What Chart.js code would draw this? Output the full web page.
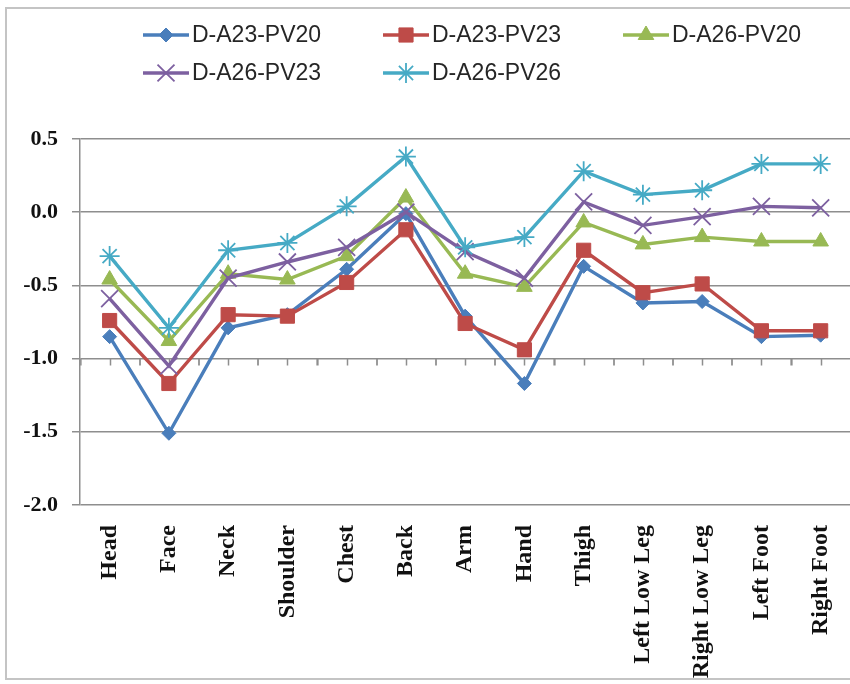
<!DOCTYPE html>
<html>
<head>
<meta charset="utf-8">
<script src="https://cdn.jsdelivr.net/npm/chart.js@4.4.1/dist/chart.umd.min.js"></script>
<style>
  html, body { margin: 0; padding: 0; background: #fff; overflow: hidden; }
  #wrap { position: relative; width: 850px; height: 684px; overflow: hidden; }
  canvas { display: block; }
</style>
</head>
<body>
<div id="wrap"><canvas id="chart" width="870" height="684"></canvas></div>
<script>
// body regions
const categories = ['Head', 'Face', 'Neck', 'Shoulder', 'Chest', 'Back', 'Arm', 'Hand', 'Thigh',
  'Left Low Leg', 'Right Low Leg', 'Left Foot', 'Right Foot'];

const seriesNames = ['D-A23-PV20', 'D-A23-PV23', 'D-A26-PV20', 'D-A26-PV23', 'D-A26-PV26'];

const a23pv20 = [-0.85, -1.51, -0.79, -0.70, -0.39, -0.01, -0.71, -1.17, -0.37, -0.62, -0.61, -0.85, -0.84];
const a23pv23 = [-0.74, -1.17, -0.70, -0.71, -0.48, -0.12, -0.76, -0.94, -0.26, -0.55, -0.49, -0.81, -0.81];
const a26pv20 = [-0.46, -0.88, -0.42, -0.46, -0.30, 0.10, -0.42, -0.51, -0.07, -0.22, -0.17, -0.20, -0.20];
const a26pv23 = [-0.59, -1.05, -0.45, -0.34, -0.24, 0.00, -0.27, -0.45, 0.07, -0.09, -0.03, 0.04, 0.03];
const a26pv26 = [-0.30, -0.79, -0.26, -0.21, 0.04, 0.38, -0.24, -0.17, 0.28, 0.12, 0.15, 0.33, 0.33];

const yTicks = [-2.0, -1.5, -1.0, -0.5, 0.0, 0.5];

const GRID = '#8e8e8e';

function line(label, data, color, pointStyle, radius, order) {
  const thin = pointStyle.startsWith('cross') || pointStyle === 'star';
  return {
    label, data, order,
    borderColor: color,
    backgroundColor: color,
    borderWidth: 3.4,
    pointStyle,
    pointRadius: radius,
    pointHoverRadius: radius,
    pointBorderWidth: thin ? 1.8 : 1,
    tension: 0
  };
}

// outer frame
const frame = {
  id: 'frame',
  beforeDraw(chart) {
    const ctx = chart.ctx;
    ctx.save();
    ctx.fillStyle = '#fff';
    ctx.fillRect(0, 0, chart.width, chart.height);
    ctx.strokeStyle = '#c4c4c4';
    ctx.lineWidth = 2;
    ctx.strokeRect(6, 8, 900, 671);
    ctx.restore();
  }
};

// category axis tick marks sit on the -1.0 line
const crossTicks = {
  id: 'crossTicks',
  beforeDatasetsDraw(chart) {
    const x = chart.scales.x, y = chart.scales.y;
    const ctx = chart.ctx;
    const y0 = y.getPixelForValue(-1);
    const half = (x.getPixelForValue(1) - x.getPixelForValue(0)) / 2;
    ctx.save();
    ctx.strokeStyle = GRID;
    ctx.lineWidth = 1.5;
    ctx.beginPath();
    categories.forEach((c, i) => {
      const px = Math.round(x.getPixelForValue(i)) + 0.5;
      [px - half, px, px + half].forEach(t => {
        ctx.moveTo(t, y0);
        ctx.lineTo(t, y0 + 7);
      });
    });
    ctx.stroke();
    ctx.restore();
  }
};

// two-row legend in fixed columns
const gridLegend = {
  id: 'gridLegend',
  afterDraw(chart) {
    const ctx = chart.ctx;
    ctx.save();
    chart.data.datasets.forEach((ds, i) => {
      const x0 = 143 + (i % 3) * 240;
      const yy = 35 + Math.floor(i / 3) * 38;
      ctx.strokeStyle = ds.borderColor;
      ctx.fillStyle = ds.backgroundColor;
      ctx.lineWidth = 3.4;
      ctx.beginPath();
      ctx.moveTo(x0, yy);
      ctx.lineTo(x0 + 46, yy);
      ctx.stroke();
      ctx.lineWidth = ds.pointBorderWidth;
      Chart.helpers.drawPoint(ctx, {
        pointStyle: ds.pointStyle, radius: ds.pointRadius, borderWidth: ds.pointBorderWidth, rotation: 0
      }, x0 + 23, yy);
      ctx.fillStyle = '#262626';
      ctx.font = '23px "Liberation Sans", Arial, sans-serif';
      ctx.textBaseline = 'middle';
      ctx.textAlign = 'left';
      ctx.fillText(ds.label, x0 + 49, yy + 1);
    });
    ctx.restore();
  }
};

new Chart(document.getElementById('chart'), {
  type: 'line',
  data: {
    labels: categories,
    datasets: [
      line(seriesNames[0], a23pv20, '#4A7EBB', 'rectRot', 7, 5),
      line(seriesNames[1], a23pv23, '#BE4B48', 'rect', 10, 4),
      line(seriesNames[2], a26pv20, '#98B954', 'triangle', 9, 3),
      line(seriesNames[3], a26pv23, '#7D60A0', 'crossRot', 12, 2),
      line(seriesNames[4], a26pv26, '#46AAC5', 'star', 10, 1)
    ]
  },
  options: {
    responsive: false,
    animation: false,
    layout: { padding: { top: 139, left: 18, right: 10, bottom: 0 } },
    plugins: {
      legend: { display: false },
      tooltip: { enabled: false }
    },
    scales: {
      x: {
        offset: true,
        grid: { display: false, drawTicks: false },
        border: { display: false },
        ticks: {
          autoSkip: false,
          minRotation: 90,
          maxRotation: 90,
          padding: 20,
          color: '#111',
          font: { family: '"Liberation Serif", "Times New Roman", serif', size: 24, weight: 'bold' }
        },
        afterFit(scale) { scale.height = 179; }
      },
      y: {
        min: -2,
        max: 0.5,
        afterBuildTicks(scale) { scale.ticks = yTicks.map(v => ({ value: v })); },
        grid: { color: GRID, lineWidth: 1.5, tickLength: 8 },
        border: { color: GRID, width: 1.5 },
        ticks: {
          padding: 14,
          color: '#111',
          font: { family: '"Liberation Serif", "Times New Roman", serif', size: 22, weight: 'bold' },
          callback: v => Number(v).toFixed(1)
        },
        afterFit(scale) { scale.width = 62; }
      }
    }
  },
  plugins: [frame, crossTicks, gridLegend]
});
</script>
</body>
</html>
